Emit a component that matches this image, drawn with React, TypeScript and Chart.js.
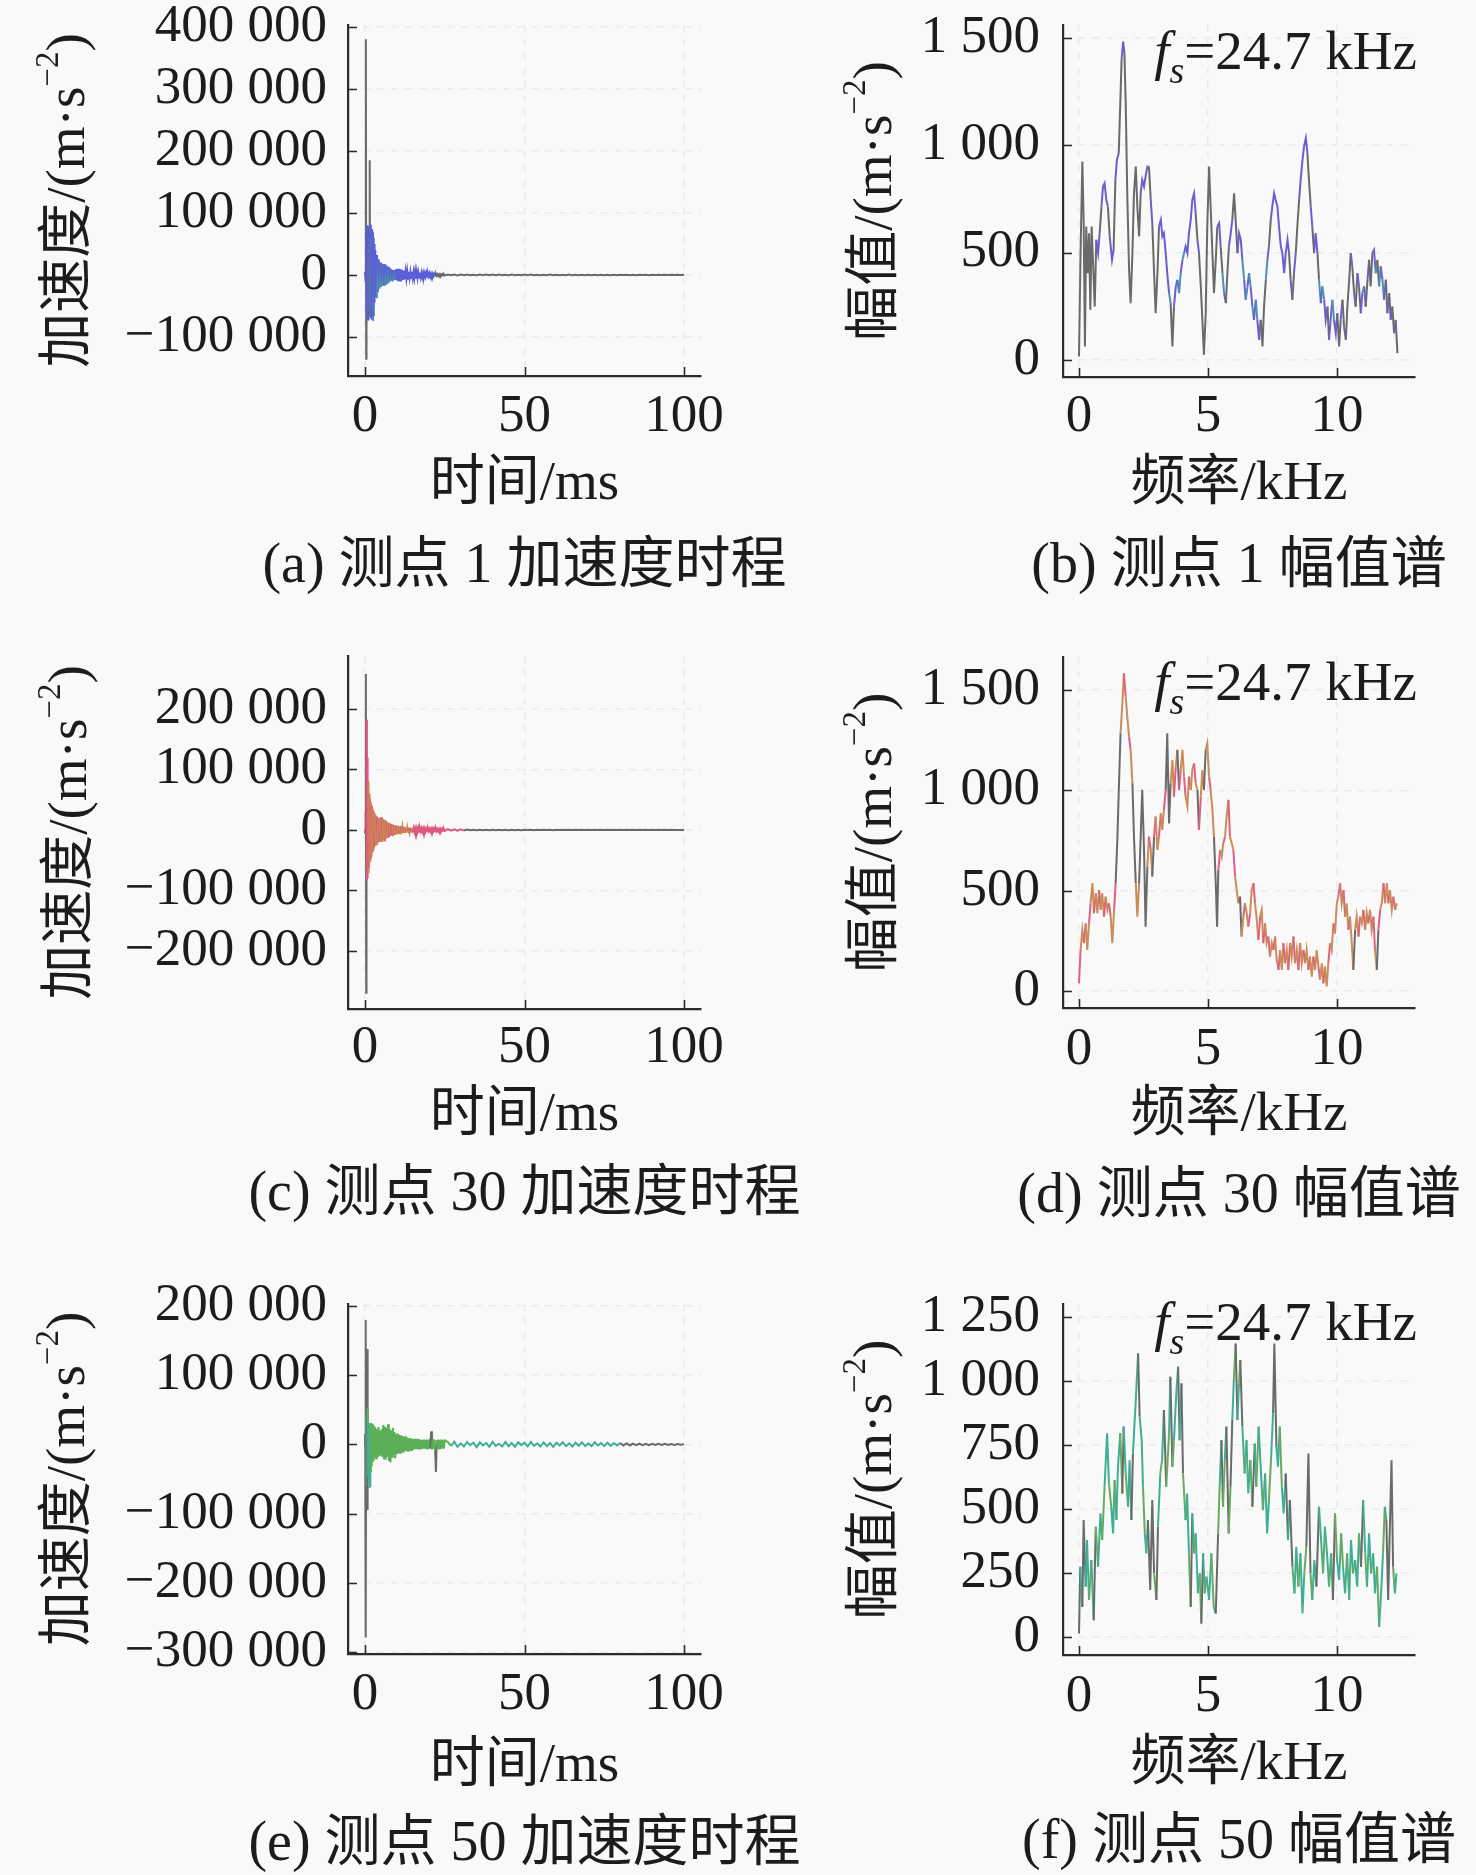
import { useEffect, useRef } from "react";
import { Chart, registerables } from "chart.js";

Chart.register(...registerables);

const SERIF = '"Liberation Serif", "Times New Roman", serif';
const MIX = '"Liberation Serif", "Noto Sans CJK SC", serif';

// ---------- time axis of the acceleration records (ms) ----------
const T_IMPACT = [0, 0.1, 0.2, 0.3, 0.4, 0.5, 0.6, 0.7, 0.8, 0.9, 1.0, 1.1, 1.2, 1.3, 1.4, 1.5, 1.6, 1.7, 1.8, 1.9, 2.0, 2.1, 2.2, 2.3, 2.4, 2.5, 2.6, 2.7, 2.8, 2.9, 3.0];
const T_DECAY = [
  3.25, 3.5, 3.75, 4, 4.25, 4.5, 4.75, 5, 5.25, 5.5, 5.75, 6, 6.25, 6.5, 6.75, 7,
  7.25, 7.5, 7.75, 8, 8.25, 8.5, 8.75, 9, 9.25, 9.5, 9.75, 10, 10.25, 10.5, 10.75, 11,
  11.25, 11.5, 11.75, 12, 12.25, 12.5, 12.75, 13, 13.25, 13.5, 13.75, 14, 14.25, 14.5, 14.75, 15,
  15.25, 15.5, 15.75, 16, 16.25, 16.5, 16.75, 17, 17.25, 17.5, 17.75, 18, 18.25, 18.5, 18.75, 19,
  19.25, 19.5, 19.75, 20, 20.25, 20.5, 20.75, 21, 21.25, 21.5, 21.75, 22, 22.25, 22.5, 22.75, 23,
  23.25, 23.5, 23.75, 24, 24.25, 24.5, 24.75, 25,
];
const T_TAIL = [
  26, 27, 28, 29, 30, 31, 32, 33, 34, 35, 36, 37, 38, 39, 40, 41, 42, 43, 44, 45,
  46, 47, 48, 49, 50, 51, 52, 53, 54, 55, 56, 57, 58, 59, 60, 61, 62, 63, 64, 65,
  66, 67, 68, 69, 70, 71, 72, 73, 74, 75, 76, 77, 78, 79, 80, 81, 82, 83, 84, 85,
  86, 87, 88, 89, 90, 91, 92, 93, 94, 95, 96, 97, 98, 99, 100,
];

// ---------- acceleration, point 1 (10^3 m/s^2) ----------
const ACC1_IMPACT = [0, 5, -10, 380, -135, 60, -60, 80, -70, 75, -72, 78, -60, 70, -65, 185, -50, 81, -70, 75, -70, 74, -72, 70, -73, 68, -65, 60, -55, 50, -45];
const ACC1_DECAY = [
  40, -36, 32, -28, 25, -22, 20, -19, 18, -18, 17, -16, 17, -16, 15, -14,
  13, -12, 11, -10, 9, -9, 8, -8, 8, -8, 9, -9, 10, -10, 10, -9,
  9, -9, 8, -8, 7, -7, 6, -6, 6, -6, 5, -5, 5, -5, 5, -5,
  5, -5, 6, -6, 5, -5, 4, -4, 4, -4, 3.5, -3.5, 3.5, -3, 3, -3,
  3, -3, 2.5, -2.5, 2.5, -2.5, 2, -2, 2, -2, 1.5, -1.5, 1.5, -1.5, 1.2, -1.2,
  1.2, -1, 1, -1, 1, -0.9, 0.9, -0.8,
];
const ACC1_TAIL = [
  0.6, -0.5, 0.6, -0.7, 0.5, -0.6, 0.7, -0.5, 0.4, -0.6, 0.5, -0.5, 0.6, -0.6, 0.5, -0.4, 0.6, -0.5, 0.4, -0.5,
  0.5, -0.6, 0.4, -0.4, 0.5, -0.5, 0.6, -0.4, 0.4, -0.5, 0.4, -0.5, 0.5, -0.4, 0.4, -0.5, 0.4, -0.4, 0.5, -0.4,
  0.4, -0.4, 0.4, -0.4, 0.4, -0.4, 0.4, -0.4, 0.4, -0.4, 0.4, -0.4, 0.3, -0.4, 0.4, -0.3, 0.4, -0.4, 0.3, -0.4,
  0.4, -0.3, 0.3, -0.4, 0.3, -0.3, 0.4, -0.3, 0.3, -0.3, 0.3, -0.3, 0.2, -0.3, 0.2,
];

// ---------- acceleration, point 30 (10^3 m/s^2) ----------
const ACC30_IMPACT = [0, -5, 30, 258, -269, 182, -83, 120, -80, 95, -70, 80, -62, 60, -55, 52, -50, 48, -45, 44, -42, 40, -38, 36, -34, 33, -31, 30, -29, 28, -27];
const ACC30_DECAY = [
  25, -24, 22, -21, 20, -19, 20, -20, 21, -19, 18, -17, 16, -15, 14, -13,
  12, -12, 11, -10, 10, -9, 9, -8, 8, -8, 7, -7, 7, -6, 6, -6,
  6, -5, 5, -5, 5, -5, 4, -4, 4, -4, 4, -4, 3.5, -3.5, 3.5, -3.5,
  3, -3, 3, -3, 3, -3, 3, -3, 2.5, -2.5, 2.5, -2.5, 2.5, -2.5, 2.5, -2.5,
  2, -2, 2, -2, 2, -2, 2, -2, 2, -2, 2, -2, 1.8, -1.8, 1.8, -1.8,
  1.6, -1.6, 1.6, -1.6, 1.5, -1.5, 1.5, -1.5,
];
const ACC30_TAIL = [
  1.4, -1.3, 1.2, -1.2, 1.1, -1.0, 0.6, -0.5, 0.4, -0.4, 0.3, -0.3, 0.3, -0.3, 0.3, -0.3, 0.3, -0.3, 0.3, -0.3,
  0.3, -0.3, 0.2, -0.3, 0.3, -0.2, 0.3, -0.3, 0.2, -0.2, 0.3, -0.2, 0.2, -0.3, 0.2, -0.2, 0.2, -0.2, 0.3, -0.2,
  0.2, -0.2, 0.2, -0.2, 0.2, -0.2, 0.2, -0.2, 0.2, -0.2, 0.2, -0.2, 0.2, -0.2, 0.2, -0.2, 0.2, -0.2, 0.2, -0.2,
  0.2, -0.2, 0.2, -0.2, 0.2, -0.2, 0.2, -0.2, 0.2, -0.2, 0.2, -0.2, 0.1, -0.1, 0,
];

// ---------- acceleration, point 50 (10^3 m/s^2) ----------
const ACC50_IMPACT = [0, 15, 180, -279, 40, -60, 50, 138, -95, 53, -45, 31, -50, 30, -63, 28, -60, 30, -40, 31, -30, 29, -28, 30, -25, 28, -22, 27, -20, 26, -18];
const ACC50_DECAY = [
  24, -20, 22, -18, 25, -17, 20, -16, 22, -18, 28, -20, 26, -22, 24, -18,
  29, -24, 22, -26, 20, -18, 24, -15, 18, -20, 15, -14, 16, -13, 14, -12,
  13, -11, 12, -12, 11, -10, 12, -9, 10, -9, 9, -8, 9, -8, 8, -8,
  8, -7, 8, -7, 7, -7, 8, -6, 7, -7, 6, -6, 7, -6, 6, -6,
  7, -6, 6, -5, 8, -6, 19, -7, 8, -6, 7, -8, -40, 6, -7, 7,
  -6, 7, -6, 7, -6, 6, -6, 6,
];
const ACC50_TAIL = [
  3.5, -2, 4, -3.5, 1.5, -3, 3.5, -1, 2.5, -4, 3, -1.5, 2, -3.5, 4, -2, 1, -3, 3.5, -2.5,
  2, -3.5, 3, -1, 2.5, -3, 3.5, -2, 1.5, -3, 3, -2.5, 2, -3.5, 2.5, -1.5, 3, -2.5, 1.5, -3,
  2.5, -2, 3, -2.5, 1.5, -2.5, 3, -1.5, 2, -2.5, 2.5, -2, 2, -1.5, 2, -1.5, 1.5, -1.5, 1.2, -1.2,
  1, -1.2, 0.8, -1, 1, -0.8, 1, -0.7, 0.8, -0.8, 0.7, -0.8, 0.6, -0.5, 0.4,
];

// ---------- amplitude spectra (kHz, m/s^2) ----------
const FREQ1 = [
  0.00, 0.06, 0.13, 0.18, 0.23, 0.28, 0.34, 0.39, 0.44, 0.49,
  0.54, 0.61, 0.67, 0.74, 0.80, 0.87, 0.93, 0.99, 1.06, 1.12,
  1.19, 1.28, 1.34, 1.41, 1.47, 1.54, 1.60, 1.65, 1.71, 1.76,
  1.81, 1.87, 1.94, 2.00, 2.07, 2.13, 2.20, 2.26, 2.33, 2.39,
  2.45, 2.52, 2.58, 2.65, 2.71, 2.78, 2.84, 2.91, 2.97, 3.04,
  3.10, 3.17, 3.23, 3.29, 3.36, 3.42, 3.49, 3.55, 3.62, 3.68,
  3.75, 3.81, 3.88, 3.94, 4.01, 4.07, 4.13, 4.20, 4.26, 4.33,
  4.39, 4.46, 4.52, 4.59, 4.65, 4.72, 4.78, 4.84, 4.91, 4.97,
  5.04, 5.10, 5.17, 5.23, 5.30, 5.36, 5.43, 5.49, 5.56, 5.62,
  5.69, 5.75, 5.81, 5.88, 5.94, 6.01, 6.07, 6.14, 6.20, 6.27,
  6.33, 6.40, 6.46, 6.53, 6.59, 6.65, 6.72, 6.78, 6.85, 6.91,
  6.98, 7.04, 7.11, 7.17, 7.24, 7.30, 7.36, 7.43, 7.49, 7.56,
  7.62, 7.69, 7.75, 7.82, 7.88, 7.95, 8.01, 8.08, 8.14, 8.20,
  8.27, 8.33, 8.40, 8.46, 8.53, 8.59, 8.66, 8.72, 8.79, 8.85,
  8.91, 8.98, 9.04, 9.11, 9.17, 9.24, 9.30, 9.37, 9.43, 9.50,
  9.56, 9.63, 9.69, 9.75, 9.82, 9.88, 9.95, 10.01, 10.08, 10.14,
  10.21, 10.27, 10.34, 10.40, 10.47, 10.53, 10.59, 10.66, 10.72, 10.79,
  10.85, 10.92, 10.98, 11.05, 11.11, 11.18, 11.24, 11.30, 11.37, 11.43,
  11.50, 11.56, 11.63, 11.69, 11.76, 11.82, 11.89, 11.95, 12.02, 12.08,
  12.14, 12.21, 12.27, 12.34,
];
const AMP1 = [
  16, 497, 924, 652, 62, 621, 404, 590, 233, 621,
  466, 248, 559, 497, 590, 714, 808, 823, 745, 714,
  575, 466, 512, 839, 932, 963, 1196, 1398, 1483, 1429,
  1196, 776, 419, 264, 497, 776, 901, 714, 575, 776,
  839, 808, 854, 901, 901, 745, 637, 404, 217, 404,
  621, 652, 575, 590, 497, 404, 311, 264, 62, 248,
  342, 373, 311, 404, 466, 497, 528, 497, 590, 652,
  745, 776, 683, 559, 497, 342, 186, 23, 217, 621,
  901, 714, 497, 311, 466, 621, 637, 528, 404, 311,
  264, 404, 528, 590, 652, 776, 652, 497, 590, 559,
  466, 373, 280, 342, 404, 342, 248, 186, 280, 186,
  93, 186, 62, 248, 373, 466, 528, 652, 714, 776,
  745, 714, 621, 528, 497, 404, 497, 559, 497, 373,
  280, 404, 497, 621, 745, 839, 932, 994, 1033, 963,
  839, 714, 621, 497, 590, 497, 373, 264, 342, 280,
  186, 248, 93, 186, 280, 186, 124, 217, 62, 186,
  280, 155, 93, 248, 373, 497, 435, 311, 248, 404,
  342, 217, 311, 342, 248, 373, 466, 342, 497, 512,
  404, 466, 342, 435, 373, 280, 373, 217, 311, 186,
  248, 124, 186, 31,
];

const FREQ30 = [
  0.00, 0.06, 0.13, 0.19, 0.26, 0.32, 0.39, 0.45, 0.52, 0.58,
  0.65, 0.71, 0.78, 0.84, 0.90, 0.97, 1.03, 1.10, 1.16, 1.23,
  1.29, 1.36, 1.42, 1.49, 1.55, 1.61, 1.68, 1.74, 1.81, 1.87,
  1.94, 2.00, 2.07, 2.13, 2.20, 2.26, 2.33, 2.39, 2.45, 2.52,
  2.58, 2.65, 2.71, 2.78, 2.84, 2.91, 2.97, 3.04, 3.10, 3.17,
  3.23, 3.29, 3.36, 3.42, 3.49, 3.55, 3.62, 3.68, 3.75, 3.81,
  3.88, 3.94, 4.01, 4.07, 4.13, 4.20, 4.26, 4.33, 4.39, 4.46,
  4.52, 4.59, 4.65, 4.72, 4.78, 4.84, 4.91, 4.97, 5.04, 5.10,
  5.17, 5.23, 5.30, 5.35, 5.40, 5.47, 5.53, 5.59, 5.66, 5.72,
  5.79, 5.85, 5.92, 5.98, 6.05, 6.11, 6.18, 6.24, 6.30, 6.37,
  6.43, 6.50, 6.56, 6.63, 6.69, 6.76, 6.82, 6.89, 6.95, 7.02,
  7.08, 7.14, 7.21, 7.27, 7.34, 7.40, 7.47, 7.53, 7.60, 7.66,
  7.73, 7.79, 7.86, 7.92, 7.98, 8.05, 8.11, 8.18, 8.24, 8.31,
  8.37, 8.44, 8.50, 8.57, 8.63, 8.70, 8.76, 8.82, 8.89, 8.95,
  9.02, 9.08, 9.15, 9.21, 9.28, 9.34, 9.41, 9.47, 9.53, 9.60,
  9.66, 9.73, 9.79, 9.86, 9.92, 9.99, 10.05, 10.12, 10.18, 10.25,
  10.31, 10.37, 10.44, 10.50, 10.57, 10.63, 10.70, 10.76, 10.83, 10.89,
  10.96, 11.02, 11.09, 11.15, 11.21, 11.28, 11.34, 11.41, 11.47, 11.54,
  11.60, 11.67, 11.73, 11.80, 11.86, 11.93, 11.99, 12.05, 12.12, 12.18,
  12.25, 12.31,
];
const AMP30 = [
  38, 204, 304, 238, 337, 204, 337, 437, 537, 387,
  487, 387, 503, 404, 487, 370, 470, 404, 437, 370,
  238, 404, 537, 769, 1035, 1284, 1433, 1583, 1467, 1367,
  1267, 1201, 1035, 769, 537, 370, 537, 769, 1002, 703,
  320, 620, 769, 703, 570, 769, 869, 703, 769, 885,
  802, 902, 1002, 1284, 835, 1035, 1151, 968, 1118, 1201,
  1002, 1101, 1201, 1068, 968, 919, 1068, 1002, 1101, 1134,
  1035, 1002, 802, 968, 1101, 1002, 1201, 1234, 1068, 1002,
  902, 769, 537, 320, 603, 703, 669, 736, 769, 869,
  952, 769, 736, 703, 570, 503, 437, 470, 271, 370,
  437, 387, 320, 387, 503, 537, 437, 354, 254, 370,
  404, 238, 337, 238, 271, 171, 238, 204, 271, 154,
  105, 204, 105, 238, 138, 204, 105, 238, 171, 271,
  138, 204, 105, 238, 138, 204, 138, 204, 105, 171,
  71, 171, 105, 204, 121, 55, 138, 38, 121, 22,
  138, 238, 204, 337, 287, 437, 470, 537, 437, 503,
  370, 437, 304, 370, 238, 105, 304, 370, 271, 370,
  337, 404, 304, 387, 337, 404, 304, 370, 204, 105,
  304, 404, 437, 537, 437, 537, 437, 503, 404, 470,
  404, 437,
];

const FREQ50 = [
  0.00, 0.05, 0.13, 0.18, 0.26, 0.31, 0.39, 0.48, 0.57, 0.65,
  0.74, 0.83, 0.90, 0.99, 1.09, 1.16, 1.25, 1.32, 1.38, 1.45,
  1.51, 1.60, 1.68, 1.73, 1.81, 1.90, 1.96, 2.03, 2.09, 2.20,
  2.29, 2.35, 2.43, 2.48, 2.55, 2.61, 2.67, 2.76, 2.84, 2.91,
  3.00, 3.06, 3.15, 3.22, 3.29, 3.38, 3.49, 3.54, 3.62, 3.68,
  3.77, 3.84, 3.90, 3.97, 4.03, 4.13, 4.19, 4.26, 4.33, 4.39,
  4.46, 4.52, 4.61, 4.68, 4.74, 4.81, 4.87, 4.94, 5.04, 5.13,
  5.22, 5.30, 5.39, 5.45, 5.52, 5.58, 5.65, 5.71, 5.80, 5.87,
  5.94, 6.00, 6.07, 6.14, 6.20, 6.25, 6.33, 6.42, 6.49, 6.56,
  6.64, 6.72, 6.81, 6.87, 6.96, 7.04, 7.13, 7.21, 7.29, 7.36,
  7.44, 7.52, 7.57, 7.65, 7.71, 7.78, 7.86, 7.93, 8.01, 8.10,
  8.17, 8.27, 8.35, 8.42, 8.50, 8.58, 8.66, 8.73, 8.81, 8.89,
  8.97, 9.04, 9.12, 9.20, 9.30, 9.38, 9.46, 9.53, 9.61, 9.69,
  9.77, 9.84, 9.92, 10.00, 10.08, 10.16, 10.23, 10.31, 10.39, 10.47,
  10.54, 10.62, 10.70, 10.78, 10.85, 10.93, 11.01, 11.09, 11.16, 11.24,
  11.32, 11.40, 11.47, 11.55, 11.63, 11.72, 11.78, 11.85, 11.91, 11.98,
  12.04, 12.11, 12.17, 12.24, 12.30,
];
const AMP50 = [
  14, 275, 118, 457, 197, 379, 145, 301, 66, 431,
  275, 483, 379, 587, 796, 600, 509, 405, 613, 457,
  665, 796, 561, 822, 639, 509, 691, 457, 717, 926,
  1108, 861, 769, 587, 405, 327, 457, 184, 535, 249,
  145, 431, 639, 691, 887, 587, 796, 1017, 665, 769,
  952, 1056, 769, 991, 639, 457, 561, 327, 118, 483,
  327, 405, 171, 249, 53, 327, 171, 236, 145, 327,
  118, 92, 405, 587, 769, 509, 691, 822, 405, 587,
  848, 1004, 1147, 848, 991, 1082, 822, 639, 769, 561,
  691, 509, 756, 587, 822, 665, 496, 639, 405, 535,
  691, 874, 1147, 743, 665, 822, 587, 483, 639, 379,
  535, 275, 171, 353, 197, 327, 92, 249, 353, 717,
  249, 145, 301, 197, 509, 379, 249, 431, 327, 197,
  327, 145, 483, 301, 223, 405, 275, 171, 327, 145,
  379, 249, 301, 197, 405, 275, 535, 327, 197, 405,
  249, 327, 171, 275, 40, 197, 327, 509, 457, 145,
  405, 691, 275, 171, 249,
];

// ---------- ticks ----------
const TIME_TICKS = [0, 50, 100];
const FREQ_TICKS = [0, 5, 10];
const ACC1_TICKS = [-100000, 0, 100000, 200000, 300000, 400000];
const ACC30_TICKS = [-200000, -100000, 0, 100000, 200000];
const ACC50_TICKS = [-300000, -200000, -100000, 0, 100000, 200000];
const AMP1_TICKS = [0, 500, 1000, 1500];
const AMP30_TICKS = [0, 500, 1000, 1500];
const AMP50_TICKS = [0, 250, 500, 750, 1000, 1250];

// ---------- texts ----------
const CAPTIONS = [
  "(a) 测点 1 加速度时程",
  "(b) 测点 1 幅值谱",
  "(c) 测点 30 加速度时程",
  "(d) 测点 30 幅值谱",
  "(e) 测点 50 加速度时程",
  "(f) 测点 50 幅值谱",
];
const TIME_TITLE = "时间/ms";
const FREQ_TITLE = "频率/kHz";
const ACC_TITLE = "加速度/(m·s";
const AMP_TITLE = "幅值/(m·s";
const NOTE_MAIN = "=24.7 kHz";

// ---------- styles ----------
const GRAY = "#6a6a6a";
const AXIS = "#2b2b2b";
const TEXT = "#1c1c1c";
const GRID = "rgba(0,0,0,0.055)";
const TICK_SIZE = 53;
const TITLE_SIZE = 55;
const CAPTION_SIZE = 56;

const joinTime = (a: number[], b: number[], c: number[]) => {
  const t = [...T_IMPACT, ...T_DECAY, ...T_TAIL];
  const v = [...a, ...b, ...c];
  const n = Math.min(t.length, v.length);
  const out: { x: number; y: number }[] = [];
  for (let i = 0; i < n; i++) out.push({ x: t[i], y: v[i] * 1000 });
  return out;
};
const joinSpec = (f: number[], a: number[]) => {
  const n = Math.min(f.length, a.length);
  const out: { x: number; y: number }[] = [];
  for (let i = 0; i < n; i++) out.push({ x: f[i], y: a[i] });
  return out;
};

const fmt = (v: number) => {
  const s = Math.abs(Math.round(v)).toString().replace(/\B(?=(\d{3})+(?!\d))/g, " ");
  return (v < 0 ? "\u2212" : "") + s;
};

type ColorFn = (x0: number, y0: number, x1: number, y1: number, i: number) => string;

const big = (y0: number, y1: number, lim: number) => Math.max(Math.abs(y0), Math.abs(y1)) > lim;

const colA: ColorFn = (x0, y0, x1, y1, i) => {
  if (big(y0, y1, 120000) || x0 >= 22) return GRAY;
  if (x0 > 3 && x0 < 10 && i % 2 === 0) return "#4f8fae";
  if (x0 > 0.9 && x0 < 3 && i % 4 === 0) return "#4f8fae";
  return "#5b5ed6";
};
const colC: ColorFn = (x0, y0, x1, y1, i) => {
  if (big(y0, y1, 200000) || x0 >= 31) return GRAY;
  if (x0 < 0.9 || x0 >= 15 || i % 3 === 0) return "#e0577f";
  return "#c98a50";
};
const colE: ColorFn = (x0, y0, x1, y1) => {
  const dy = Math.abs(y1 - y0);
  if (big(y0, y1, 90000) || x0 >= 80) return GRAY;
  if (x0 > 15 && x0 < 27 && dy > 20000) return GRAY;
  if (x0 >= 27) return "#3fae96";
  if (x0 < 3 && Math.min(y0, y1) < -45000) return "#3fae96";
  return "#5aaf57";
};
const colB: ColorFn = (x0, y0, x1, y1, i) => {
  const dy = Math.abs(y1 - y0);
  if (dy > 120) return GRAY;
  return y0 < 470 && y0 > 220 && i % 2 === 0 ? "#4d90b2" : "#6a5fd0";
};
const colD: ColorFn = (x0, y0, x1, y1, i) => {
  const dy = Math.abs(y1 - y0);
  if (dy > 190) return GRAY;
  return i % 3 === 0 ? "#e0607f" : "#c98d58";
};
const colF: ColorFn = (x0, y0, x1, y1, i) => {
  const dy = Math.abs(y1 - y0);
  if (dy > 240) return GRAY;
  return i % 3 === 0 ? "#6aaa5f" : "#3daf95";
};

type Part = { t: string; f: string; dy: number };

type PanelCfg = {
  left: number; top: number; w: number; h: number;
  padTop: number; padBottom: number; padRight: number; yWidth: number;
  yTickPad: number; xTickPad: number; xTitlePad: number;
  xMin: number; xMax: number; yMin: number; yMax: number;
  xTicks: number[]; yTicks: number[];
  xTitle: string; yTitle: string; yTitleX: number;
  caption: string; captionY: number;
  noteDy: number | null;
  data: { x: number; y: number }[];
  color: ColorFn; lineWidth: number;
};

// left canvases are wider than their column so the long captions are not clipped
const L = { left: 0, w: 820, padRight: 119 };
const R = { left: 738, w: 738, padRight: 61 };

const PANELS: PanelCfg[] = [
  {
    ...L, top: 0, h: 620, padTop: 25, padBottom: 94, yWidth: 348,
    yTickPad: 21, xTickPad: 9, xTitlePad: 8,
    xMin: -5.3, xMax: 105.3, yMin: -163000, yMax: 403000,
    xTicks: TIME_TICKS, yTicks: ACC1_TICKS, xTitle: TIME_TITLE, yTitle: ACC_TITLE, yTitleX: 64,
    caption: CAPTIONS[0], captionY: 562, noteDy: null,
    data: joinTime(ACC1_IMPACT, ACC1_DECAY, ACC1_TAIL), color: colA, lineWidth: 2,
  },
  {
    ...R, top: 0, h: 620, padTop: 25, padBottom: 93, yWidth: 325,
    yTickPad: 23, xTickPad: 8, xTitlePad: 9,
    xMin: -0.62, xMax: 13.02, yMin: -80, yMax: 1560,
    xTicks: FREQ_TICKS, yTicks: AMP1_TICKS, xTitle: FREQ_TITLE, yTitle: AMP_TITLE, yTitleX: 133,
    caption: CAPTIONS[1], captionY: 562, noteDy: 44,
    data: joinSpec(FREQ1, AMP1), color: colB, lineWidth: 2,
  },
  {
    ...L, top: 620, h: 640, padTop: 36, padBottom: 101, yWidth: 348,
    yTickPad: 21, xTickPad: 7, xTitlePad: 10,
    xMin: -5.3, xMax: 105.3, yMin: -296000, yMax: 287600,
    xTicks: TIME_TICKS, yTicks: ACC30_TICKS, xTitle: TIME_TITLE, yTitle: ACC_TITLE, yTitleX: 66,
    caption: CAPTIONS[2], captionY: 570, noteDy: null,
    data: joinTime(ACC30_IMPACT, ACC30_DECAY, ACC30_TAIL), color: colC, lineWidth: 2,
  },
  {
    ...R, top: 620, h: 640, padTop: 37, padBottom: 102, yWidth: 325,
    yTickPad: 23, xTickPad: 10, xTitlePad: 9,
    xMin: -0.62, xMax: 13.02, yMin: -85, yMax: 1664,
    xTicks: FREQ_TICKS, yTicks: AMP30_TICKS, xTitle: FREQ_TITLE, yTitle: AMP_TITLE, yTitleX: 133,
    caption: CAPTIONS[3], captionY: 572, noteDy: 43,
    data: joinSpec(FREQ30, AMP30), color: colD, lineWidth: 2,
  },
  {
    ...L, top: 1260, h: 615, padTop: 44, padBottom: 71, yWidth: 348,
    yTickPad: 21, xTickPad: 9, xTitlePad: 4,
    xMin: -5.3, xMax: 105.3, yMin: -303000, yMax: 203000,
    xTicks: TIME_TICKS, yTicks: ACC50_TICKS, xTitle: TIME_TITLE, yTitle: ACC_TITLE, yTitleX: 64,
    caption: CAPTIONS[4], captionY: 580, noteDy: null,
    data: joinTime(ACC50_IMPACT, ACC50_DECAY, ACC50_TAIL), color: colE, lineWidth: 2,
  },
  {
    ...R, top: 1260, h: 615, padTop: 44, padBottom: 70, yWidth: 325,
    yTickPad: 23, xTickPad: 10, xTitlePad: 7,
    xMin: -0.62, xMax: 13.02, yMin: -70, yMax: 1301,
    xTicks: FREQ_TICKS, yTicks: AMP50_TICKS, xTitle: FREQ_TITLE, yTitle: AMP_TITLE, yTitleX: 133,
    caption: CAPTIONS[5], captionY: 578, noteDy: 36,
    data: joinSpec(FREQ50, AMP50), color: colF, lineWidth: 2,
  },
];

function drawParts(ctx: CanvasRenderingContext2D, parts: Part[], x: number, y: number, rotate: boolean, align: "center" | "right") {
  ctx.save();
  ctx.translate(x, y);
  if (rotate) ctx.rotate(-Math.PI / 2);
  ctx.fillStyle = TEXT;
  ctx.textBaseline = "alphabetic";
  ctx.textAlign = "left";
  let total = 0;
  for (const p of parts) {
    ctx.font = p.f;
    total += ctx.measureText(p.t).width;
  }
  let cx = align === "center" ? -total / 2 : -total;
  for (const p of parts) {
    ctx.font = p.f;
    ctx.fillText(p.t, cx, p.dy);
    cx += ctx.measureText(p.t).width;
  }
  ctx.restore();
}

function makeDecor(cfg: PanelCfg) {
  return {
    id: "decor",
    afterDraw(chart: any) {
      const { ctx, chartArea: ca, scales } = chart;
      ctx.save();
      ctx.strokeStyle = AXIS;
      ctx.lineWidth = 1.6;
      ctx.beginPath();
      for (const v of cfg.xTicks) {
        const px = Math.round(scales.x.getPixelForValue(v)) + 0.5;
        ctx.moveTo(px, ca.bottom);
        ctx.lineTo(px, ca.bottom - 9);
      }
      for (const v of cfg.yTicks) {
        const py = Math.round(scales.y.getPixelForValue(v)) + 0.5;
        ctx.moveTo(ca.left, py);
        ctx.lineTo(ca.left + 9, py);
      }
      ctx.stroke();
      ctx.restore();

      drawParts(ctx, [
        { t: cfg.yTitle, f: `${TITLE_SIZE}px ${MIX}`, dy: 20 },
        { t: "\u22122", f: `33px ${SERIF}`, dy: -6 },
        { t: ")", f: `${TITLE_SIZE}px ${MIX}`, dy: 20 },
      ], cfg.yTitleX, (ca.top + ca.bottom) / 2, true, "center");

      drawParts(ctx, [{ t: cfg.caption, f: `${CAPTION_SIZE}px ${MIX}`, dy: 20 }], (ca.left + ca.right) / 2, cfg.captionY, false, "center");

      if (cfg.noteDy !== null) {
        drawParts(ctx, [
          { t: "f", f: `italic 55px ${SERIF}`, dy: 0 },
          { t: "s", f: `italic 38px ${SERIF}`, dy: 14 },
          { t: NOTE_MAIN, f: `55px ${SERIF}`, dy: 0 },
        ], ca.right + 2, ca.top + cfg.noteDy, false, "right");
      }
    },
  };
}

function Panel({ cfg }: { cfg: PanelCfg }) {
  const ref = useRef<HTMLCanvasElement>(null);
  useEffect(() => {
    const canvas = ref.current;
    if (!canvas) return;
    const color = cfg.color;
    const chart = new Chart(canvas, {
      type: "line",
      data: {
        datasets: [
          {
            data: cfg.data,
            borderColor: GRAY,
            borderWidth: cfg.lineWidth,
            pointRadius: 0,
            tension: 0,
            fill: false,
            segment: {
              borderColor: (c: any) => color(c.p0.parsed.x, c.p0.parsed.y, c.p1.parsed.x, c.p1.parsed.y, c.p0DataIndex),
            },
          },
        ],
      },
      options: {
        responsive: false,
        animation: false,
        events: [],
        layout: { autoPadding: false, padding: { top: cfg.padTop, bottom: cfg.padBottom, left: 0, right: cfg.padRight } },
        plugins: { legend: { display: false }, tooltip: { enabled: false }, title: { display: false } },
        scales: {
          x: {
            type: "linear",
            min: cfg.xMin,
            max: cfg.xMax,
            afterBuildTicks: (s: any) => { s.ticks = cfg.xTicks.map((v) => ({ value: v })); },
            afterFit: (s: any) => { s.height = 150; s.paddingLeft = 0; s.paddingRight = 0; },
            grid: { drawTicks: false, color: GRID, lineWidth: 1.5 },
            border: { display: true, color: AXIS, width: 2.2, dash: [7, 7] },
            ticks: {
              font: { family: SERIF, size: TICK_SIZE },
              color: TEXT,
              padding: cfg.xTickPad,
              maxRotation: 0,
              autoSkip: false,
              callback: (v: any) => String(v),
            },
            title: {
              display: true,
              text: cfg.xTitle,
              font: { family: MIX, size: TITLE_SIZE },
              color: TEXT,
              padding: { top: 0, bottom: cfg.xTitlePad },
            },
          },
          y: {
            type: "linear",
            min: cfg.yMin,
            max: cfg.yMax,
            afterBuildTicks: (s: any) => { s.ticks = cfg.yTicks.map((v) => ({ value: v })); },
            afterFit: (s: any) => { s.width = cfg.yWidth; s.paddingTop = 0; s.paddingBottom = 0; },
            grid: { drawTicks: false, color: GRID, lineWidth: 1.5 },
            border: { display: true, color: AXIS, width: 2.2, dash: [7, 7] },
            ticks: {
              font: { family: SERIF, size: TICK_SIZE },
              color: TEXT,
              padding: cfg.yTickPad,
              autoSkip: false,
              callback: (v: any) => fmt(Number(v)),
            },
            title: { display: false },
          },
        },
      },
      plugins: [makeDecor(cfg)],
    } as any);
    return () => chart.destroy();
  }, [cfg]);
  return (
    <canvas
      ref={ref}
      width={cfg.w}
      height={cfg.h}
      style={{ position: "absolute", left: cfg.left, top: cfg.top, width: cfg.w, height: cfg.h }}
    />
  );
}

export default function App() {
  return (
    <div style={{ position: "absolute", left: 0, top: 0, width: 1476, height: 1875, background: "#f9f9f9", overflow: "hidden" }}>
      {PANELS.map((p, i) => (
        <Panel key={i} cfg={p} />
      ))}
    </div>
  );
}
